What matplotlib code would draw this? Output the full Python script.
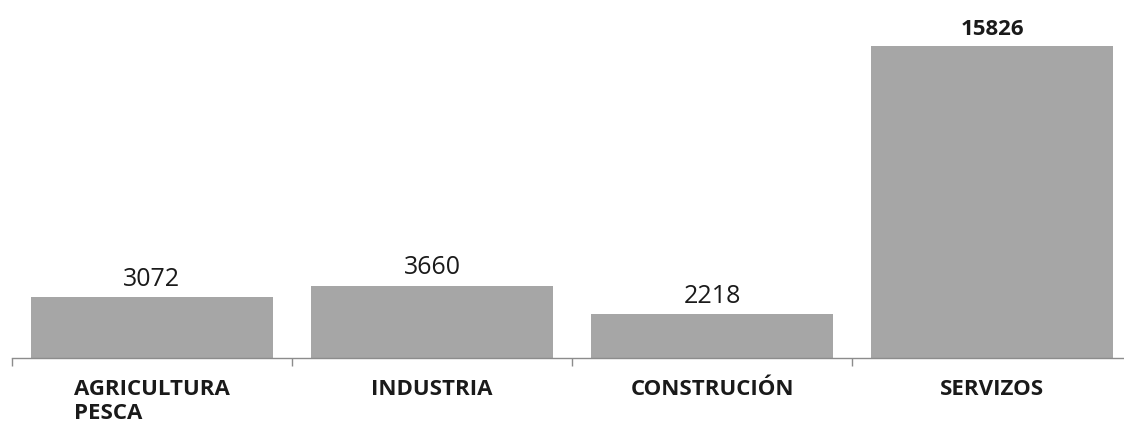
import numpy as np
import matplotlib.pyplot as plt

# Chart data
categories = ["AGRICULTURA\nPESCA", "INDUSTRIA", "CONSTRUCIÓN", "SERVIZOS"]
values = [3072, 3660, 2218, 15826]
bold_value = [False, False, False, True]

plt.rcParams['font.family'] = ['Open Sans', 'DejaVu Sans']

fig = plt.figure(figsize=(11.24, 4.26), dpi=100)
ax = fig.add_axes([12 / 1124, 1 - 358 / 426, 1120 / 1124, 358 / 426])

x = np.arange(len(categories))
ax.bar(x, values, width=0.865, color="#a6a6a6", zorder=2)

ax.set_xlim(-0.5, len(categories) - 0.5)
ax.set_ylim(0, 18160)

for xi, v, b in zip(x, values, bold_value):
    ax.annotate(str(v), (xi, v), xytext=(0, 4), textcoords="offset points",
                ha="center", va="bottom", fontsize=18 if not b else 16,
                fontweight="bold" if b else "normal", color="#1a1a1a")

# category labels
ax.set_xticks(x)
ax.set_xticklabels(categories, fontsize=16, fontweight="bold", color="#1a1a1a",
                   linespacing=1.2, va="top", multialignment="left")
ax.tick_params(axis="x", which="major", length=0, pad=15)

# boundary ticks
ax.set_xticks(np.arange(-0.5, len(categories)), minor=True)
ax.tick_params(axis="x", which="minor", length=6, color="#8c8c8c", width=1)

ax.set_yticks([])
for side in ["top", "right", "left"]:
    ax.spines[side].set_visible(False)
ax.spines["bottom"].set_color("#8c8c8c")
ax.spines["bottom"].set_linewidth(1)

fig.savefig("out.png", dpi=100)
